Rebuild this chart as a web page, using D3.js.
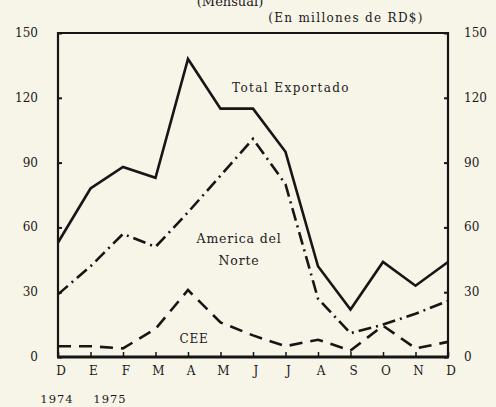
<!DOCTYPE html>
<html>
<head>
<meta charset="utf-8">
<script src="https://cdn.jsdelivr.net/npm/d3@7"></script>
<style>
  html, body { margin: 0; padding: 0; background: #f7f4e8; }
  svg text { font-family: "DejaVu Serif", "Liberation Serif", serif; fill: #1a1a1a; }
</style>
</head>
<body>
<div id="chart"></div>
<script>
// Months Dec 1974 .. Dec 1975
const months = ["D", "E", "F", "M", "A", "M", "J", "J", "A", "S", "O", "N", "D"];
const total = [53, 78, 88, 83, 138, 115, 115, 95, 42, 22, 44, 33, 44];
const norte = [29, 42, 57, 51, 67, 84, 101, 80, 27, 11, 15, 20, 26];
const cee = [5, 5, 4, 13, 31, 16, 10, 5, 8, 3, 14.5, 4, 7];
const yTicks = [0, 30, 60, 90, 120, 150];
const years = ["1974", "1975"];

const width = 496, height = 407;
const svg = d3.select("#chart").append("svg")
  .attr("width", width)
  .attr("height", height);

const x = d3.scalePoint().domain(d3.range(months.length)).range([58, 448]);
const y = d3.scaleLinear().domain([0, 150]).range([357, 33]);

const ink = "#161616";

// frame
svg.append("path")
  .attr("d", `M${x(0)},${y(0)} V${y(150)} H${x(12)} V${y(0)}`)
  .attr("fill", "none")
  .attr("stroke", ink)
  .attr("stroke-width", 2.2);
svg.append("line")
  .attr("x1", x(0) - 1).attr("x2", x(12) + 1)
  .attr("y1", y(0)).attr("y2", y(0))
  .attr("stroke", ink).attr("stroke-width", 3);

// left / right axes with inward ticks
const leftAxis = d3.axisRight(y).tickValues(yTicks).tickSize(4).tickFormat("");
const rightAxis = d3.axisLeft(y).tickValues(yTicks).tickSize(4).tickFormat("");
svg.append("g").attr("transform", `translate(${x(0)},0)`).call(leftAxis)
  .call(g => g.select(".domain").remove())
  .selectAll("line").attr("stroke", ink).attr("stroke-width", 2);
svg.append("g").attr("transform", `translate(${x(12)},0)`).call(rightAxis)
  .call(g => g.select(".domain").remove())
  .selectAll("line").attr("stroke", ink).attr("stroke-width", 2);

// bottom ticks pointing up
const bottomAxis = d3.axisTop(x).tickSize(5).tickFormat("");
svg.append("g").attr("transform", `translate(0,${y(0)})`).call(bottomAxis)
  .call(g => g.select(".domain").remove())
  .selectAll("line").attr("stroke", ink).attr("stroke-width", 1.5);

// y labels
svg.selectAll(".yl").data(yTicks).join("text")
  .attr("x", 38).attr("y", d => y(d) + 4)
  .attr("text-anchor", "end").attr("font-size", 12)
  .text(d => d);
svg.selectAll(".yr").data(yTicks).join("text")
  .attr("x", 464).attr("y", d => y(d) + 4)
  .attr("font-size", 12)
  .text(d => d);

// month labels
svg.selectAll(".ml").data(months).join("text")
  .attr("x", (d, i) => x(i) + 3).attr("y", 375)
  .attr("text-anchor", "middle").attr("font-size", 12)
  .text(d => d);
svg.selectAll(".yrs").data(years).join("text")
  .attr("x", (d, i) => 57 + i * 53).attr("y", 403)
  .attr("text-anchor", "middle").attr("font-size", 11.5)
  .attr("letter-spacing", 1)
  .text(d => d);

// titles (the first one is cut by the top edge, as in the scan)
svg.append("text").attr("x", 230).attr("y", 6)
  .attr("text-anchor", "middle").attr("font-size", 13)
  .text("(Mensual)");
svg.append("text").attr("x", 346).attr("y", 22)
  .attr("text-anchor", "middle").attr("font-size", 12)
  .attr("letter-spacing", 1.3)
  .text("(En millones de RD$)");

// series lines
const line = d3.line().x((d, i) => x(i)).y(d => y(d));
svg.append("path").datum(total).attr("d", line)
  .attr("fill", "none").attr("stroke", ink).attr("stroke-width", 2.6)
  .attr("stroke-linejoin", "miter");
svg.append("path").datum(norte).attr("d", line)
  .attr("fill", "none").attr("stroke", ink).attr("stroke-width", 2.6)
  .attr("stroke-dasharray", "13,5,2,5");
svg.append("path").datum(cee).attr("d", line)
  .attr("fill", "none").attr("stroke", ink).attr("stroke-width", 2.6)
  .attr("stroke-dasharray", "13,8");

// series labels
svg.append("text").attr("x", 291).attr("y", 92)
  .attr("text-anchor", "middle").attr("font-size", 12)
  .attr("letter-spacing", 1.4)
  .text("Total Exportado");
svg.append("text").attr("x", 239).attr("y", 243)
  .attr("text-anchor", "middle").attr("font-size", 12.5)
  .attr("letter-spacing", 0.8)
  .text("America del");
svg.append("text").attr("x", 239).attr("y", 265)
  .attr("text-anchor", "middle").attr("font-size", 12.5)
  .attr("letter-spacing", 0.8)
  .text("Norte");
svg.append("text").attr("x", 194).attr("y", 343)
  .attr("text-anchor", "middle").attr("font-size", 12)
  .attr("letter-spacing", 0.8)
  .text("CEE");
</script>
</body>
</html>
